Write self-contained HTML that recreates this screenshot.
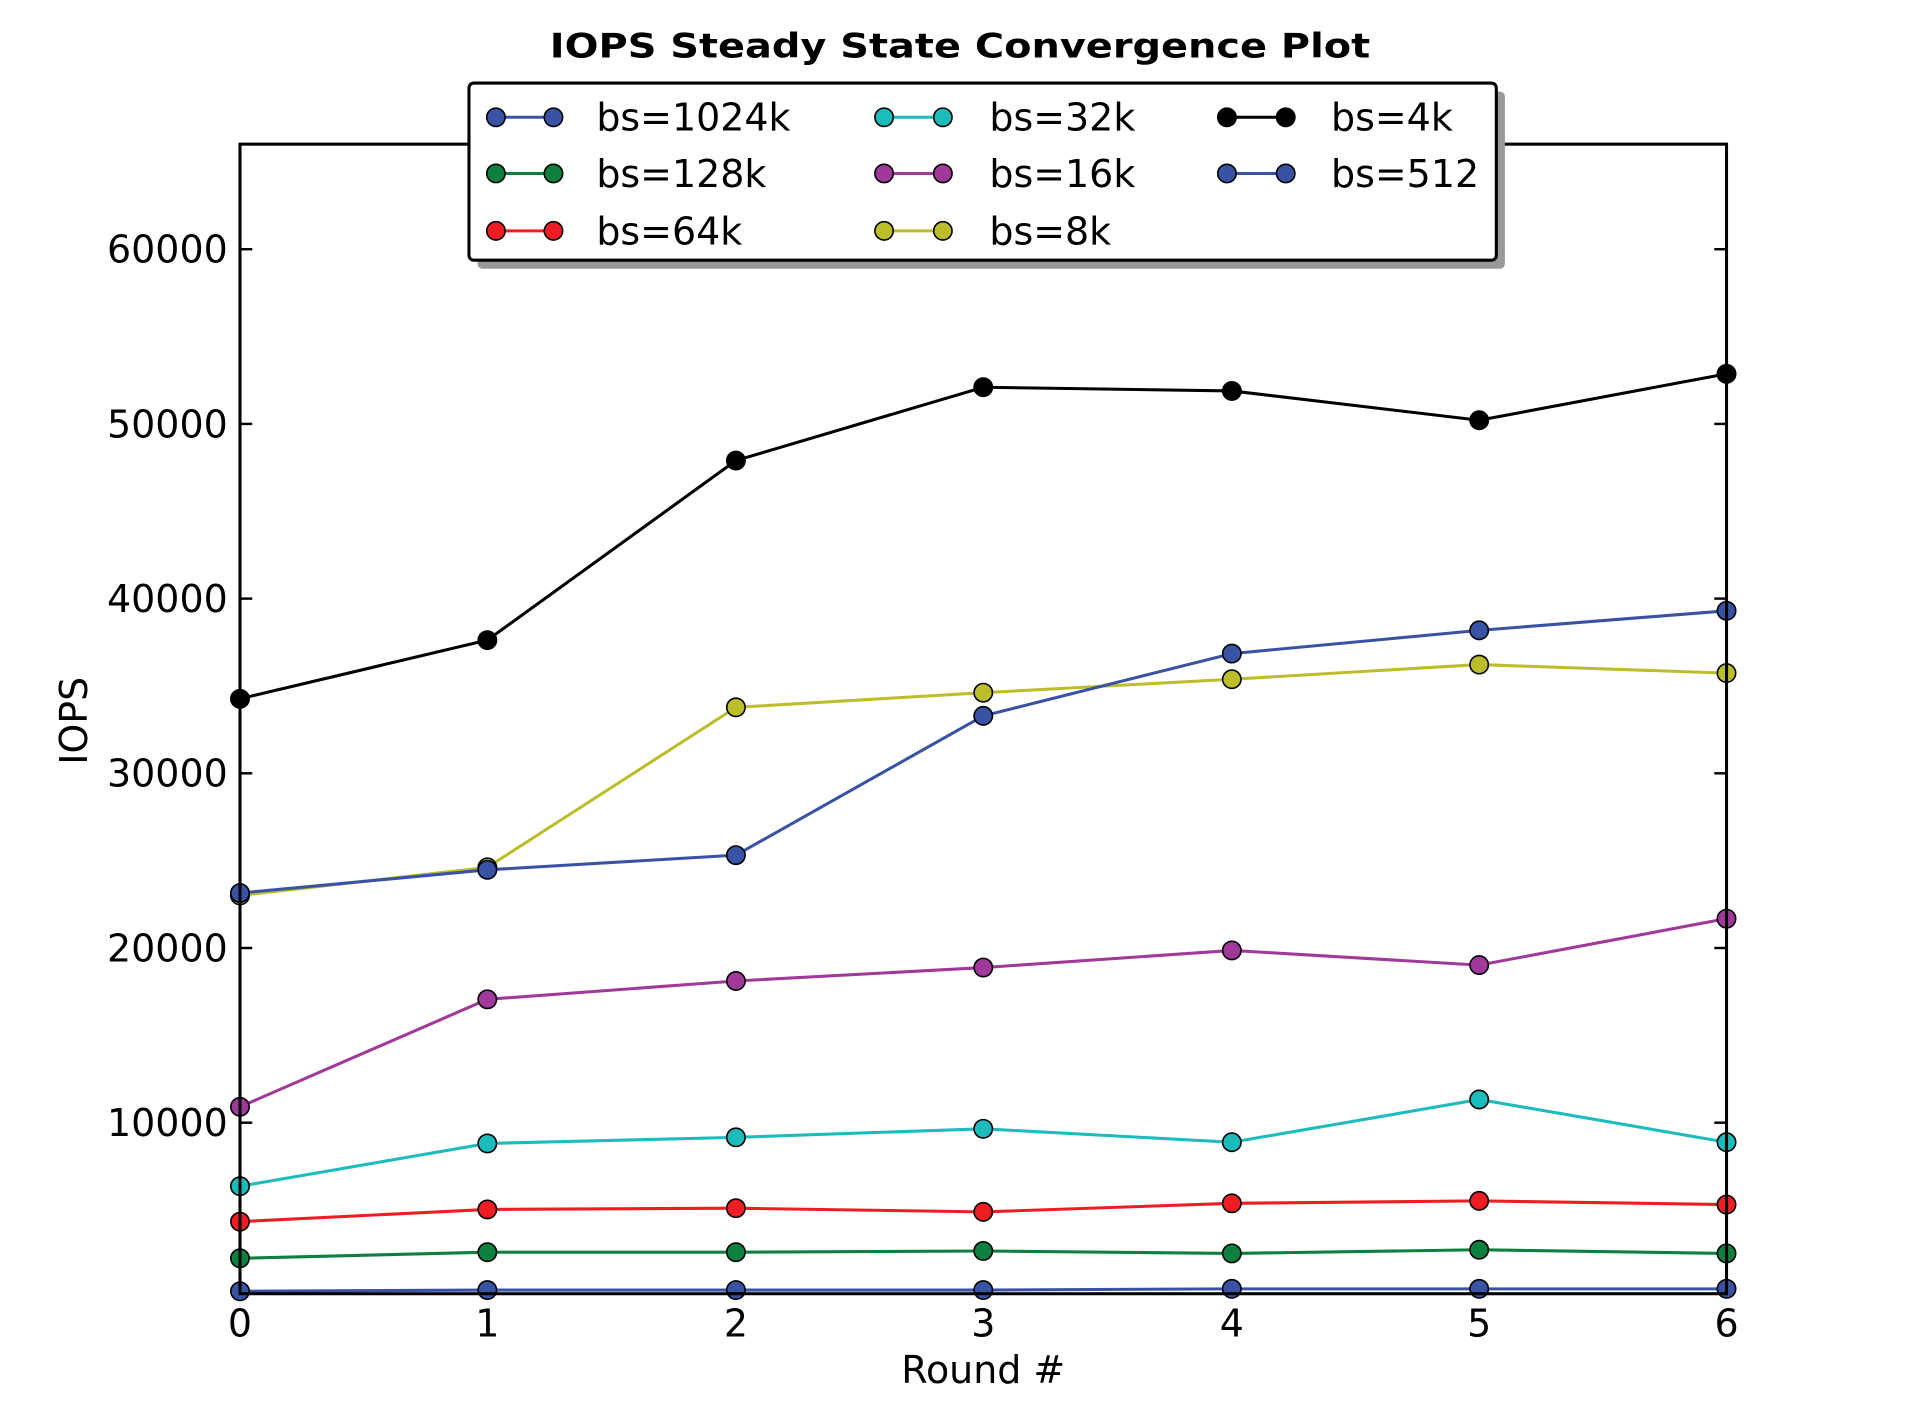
<!DOCTYPE html>
<html><head><style>html,body{margin:0;padding:0;background:#fff}svg{display:block}</style></head>
<body>
<svg width="1920" height="1422" viewBox="0 0 1568 1164" preserveAspectRatio="none" xmlns="http://www.w3.org/2000/svg" font-family="'DejaVu Sans', 'Liberation Sans', sans-serif">
<rect width="1568" height="1164" fill="#fff"/>
<text x="784" y="47" text-anchor="middle" font-size="28" font-weight="bold" textLength="670" lengthAdjust="spacingAndGlyphs">IOPS Steady State Convergence Plot</text>
<g stroke="#000" stroke-width="2">
<line x1="196" y1="204" x2="206" y2="204"/><line x1="1410" y1="204" x2="1400" y2="204"/>
<line x1="196" y1="347" x2="206" y2="347"/><line x1="1410" y1="347" x2="1400" y2="347"/>
<line x1="196" y1="490" x2="206" y2="490"/><line x1="1410" y1="490" x2="1400" y2="490"/>
<line x1="196" y1="633" x2="206" y2="633"/><line x1="1410" y1="633" x2="1400" y2="633"/>
<line x1="196" y1="776" x2="206" y2="776"/><line x1="1410" y1="776" x2="1400" y2="776"/>
<line x1="196" y1="919" x2="206" y2="919"/><line x1="1410" y1="919" x2="1400" y2="919"/>
<line x1="398" y1="1059" x2="398" y2="1049"/><line x1="398" y1="118" x2="398" y2="128"/>
<line x1="601" y1="1059" x2="601" y2="1049"/><line x1="601" y1="118" x2="601" y2="128"/>
<line x1="803" y1="1059" x2="803" y2="1049"/><line x1="803" y1="118" x2="803" y2="128"/>
<line x1="1006" y1="1059" x2="1006" y2="1049"/><line x1="1006" y1="118" x2="1006" y2="128"/>
<line x1="1208" y1="1059" x2="1208" y2="1049"/><line x1="1208" y1="118" x2="1208" y2="128"/>
</g>
<g font-size="31" text-anchor="end">
<text x="186" y="215">60000</text><text x="186" y="358">50000</text><text x="186" y="501">40000</text>
<text x="186" y="644">30000</text><text x="186" y="787">20000</text><text x="186" y="930">10000</text>
</g>
<g font-size="31" text-anchor="middle">
<text x="196" y="1094">0</text><text x="398" y="1094">1</text><text x="601" y="1094">2</text><text x="803" y="1094">3</text>
<text x="1006" y="1094">4</text><text x="1208" y="1094">5</text><text x="1410" y="1094">6</text>
<text x="803" y="1132">Round #</text>
<text transform="translate(71,590) rotate(-90)">IOPS</text>
</g>
<g stroke-width="2.5" fill="none">
<polyline stroke="#0d7f3f" points="196,1030 398,1025 601,1025 803,1024 1006,1026 1208,1023 1410,1026"/>
<polyline stroke="#ee1d24" points="196,1000 398,990 601,989 803,992 1006,985 1208,983 1410,986"/>
<polyline stroke="#1cbcbc" points="196,971 398,936 601,931 803,924 1006,935 1208,900 1410,935"/>
<polyline stroke="#a0399a" points="196,906 398,818 601,803 803,792 1006,778 1208,790 1410,752"/>
<polyline stroke="#bcbd2a" points="196,733 398,710 601,579 803,567 1006,556 1208,544 1410,551"/>
<polyline stroke="#3953a4" points="196,1057 398,1056 601,1056 803,1056 1006,1055 1208,1055 1410,1055"/>
<polyline stroke="#3953a4" points="196,731 398,712 601,700 803,586 1006,535 1208,516 1410,500"/>
<polyline stroke="#000" points="196,572 398,524 601,377 803,317 1006,320 1208,344 1410,306"/>
</g>
<g stroke="#000" stroke-width="1.3">
<g fill="#0d7f3f"><circle cx="196" cy="1030" r="7.5"/><circle cx="398" cy="1025" r="7.5"/><circle cx="601" cy="1025" r="7.5"/><circle cx="803" cy="1024" r="7.5"/><circle cx="1006" cy="1026" r="7.5"/><circle cx="1208" cy="1023" r="7.5"/><circle cx="1410" cy="1026" r="7.5"/></g>
<g fill="#ee1d24"><circle cx="196" cy="1000" r="7.5"/><circle cx="398" cy="990" r="7.5"/><circle cx="601" cy="989" r="7.5"/><circle cx="803" cy="992" r="7.5"/><circle cx="1006" cy="985" r="7.5"/><circle cx="1208" cy="983" r="7.5"/><circle cx="1410" cy="986" r="7.5"/></g>
<g fill="#1cbcbc"><circle cx="196" cy="971" r="7.5"/><circle cx="398" cy="936" r="7.5"/><circle cx="601" cy="931" r="7.5"/><circle cx="803" cy="924" r="7.5"/><circle cx="1006" cy="935" r="7.5"/><circle cx="1208" cy="900" r="7.5"/><circle cx="1410" cy="935" r="7.5"/></g>
<g fill="#a0399a"><circle cx="196" cy="906" r="7.5"/><circle cx="398" cy="818" r="7.5"/><circle cx="601" cy="803" r="7.5"/><circle cx="803" cy="792" r="7.5"/><circle cx="1006" cy="778" r="7.5"/><circle cx="1208" cy="790" r="7.5"/><circle cx="1410" cy="752" r="7.5"/></g>
<g fill="#bcbd2a"><circle cx="196" cy="733" r="7.5"/><circle cx="398" cy="710" r="7.5"/><circle cx="601" cy="579" r="7.5"/><circle cx="803" cy="567" r="7.5"/><circle cx="1006" cy="556" r="7.5"/><circle cx="1208" cy="544" r="7.5"/><circle cx="1410" cy="551" r="7.5"/></g>
<g fill="#3953a4"><circle cx="196" cy="1057" r="7.5"/><circle cx="398" cy="1056" r="7.5"/><circle cx="601" cy="1056" r="7.5"/><circle cx="803" cy="1056" r="7.5"/><circle cx="1006" cy="1055" r="7.5"/><circle cx="1208" cy="1055" r="7.5"/><circle cx="1410" cy="1055" r="7.5"/>
<circle cx="196" cy="731" r="7.5"/><circle cx="398" cy="712" r="7.5"/><circle cx="601" cy="700" r="7.5"/><circle cx="803" cy="586" r="7.5"/><circle cx="1006" cy="535" r="7.5"/><circle cx="1208" cy="516" r="7.5"/><circle cx="1410" cy="500" r="7.5"/></g>
<g fill="#000"><circle cx="196" cy="572" r="7.5"/><circle cx="398" cy="524" r="7.5"/><circle cx="601" cy="377" r="7.5"/><circle cx="803" cy="317" r="7.5"/><circle cx="1006" cy="320" r="7.5"/><circle cx="1208" cy="344" r="7.5"/><circle cx="1410" cy="306" r="7.5"/></g>
</g>
<rect x="196" y="118" width="1214" height="941" fill="none" stroke="#000" stroke-width="2.5"/>
<rect x="390" y="75" width="839" height="145" rx="4" fill="#999"/>
<rect x="383" y="68" width="839" height="145" rx="4" fill="#fff" stroke="#000" stroke-width="2.5"/>
<g stroke-width="2.5">
<line x1="405" y1="96" x2="452" y2="96" stroke="#3953a4"/><line x1="405" y1="142" x2="452" y2="142" stroke="#0d7f3f"/><line x1="405" y1="189" x2="452" y2="189" stroke="#ee1d24"/>
<line x1="722" y1="96" x2="770" y2="96" stroke="#1cbcbc"/><line x1="722" y1="142" x2="770" y2="142" stroke="#a0399a"/><line x1="722" y1="189" x2="770" y2="189" stroke="#bcbd2a"/>
<line x1="1002" y1="96" x2="1050" y2="96" stroke="#000"/><line x1="1002" y1="142" x2="1050" y2="142" stroke="#3953a4"/>
</g>
<g stroke="#000" stroke-width="1.3">
<circle cx="405" cy="96" r="7.5" fill="#3953a4"/><circle cx="452" cy="96" r="7.5" fill="#3953a4"/>
<circle cx="405" cy="142" r="7.5" fill="#0d7f3f"/><circle cx="452" cy="142" r="7.5" fill="#0d7f3f"/>
<circle cx="405" cy="189" r="7.5" fill="#ee1d24"/><circle cx="452" cy="189" r="7.5" fill="#ee1d24"/>
<circle cx="722" cy="96" r="7.5" fill="#1cbcbc"/><circle cx="770" cy="96" r="7.5" fill="#1cbcbc"/>
<circle cx="722" cy="142" r="7.5" fill="#a0399a"/><circle cx="770" cy="142" r="7.5" fill="#a0399a"/>
<circle cx="722" cy="189" r="7.5" fill="#bcbd2a"/><circle cx="770" cy="189" r="7.5" fill="#bcbd2a"/>
<circle cx="1002" cy="96" r="7.5" fill="#000"/><circle cx="1050" cy="96" r="7.5" fill="#000"/>
<circle cx="1002" cy="142" r="7.5" fill="#3953a4"/><circle cx="1050" cy="142" r="7.5" fill="#3953a4"/>
</g>
<g font-size="31">
<text x="487" y="107">bs=1024k</text><text x="487" y="153">bs=128k</text><text x="487" y="200">bs=64k</text>
<text x="808" y="107">bs=32k</text><text x="808" y="153">bs=16k</text><text x="808" y="200">bs=8k</text>
<text x="1087" y="107">bs=4k</text><text x="1087" y="153">bs=512</text>
</g>
</svg>
</body></html>
